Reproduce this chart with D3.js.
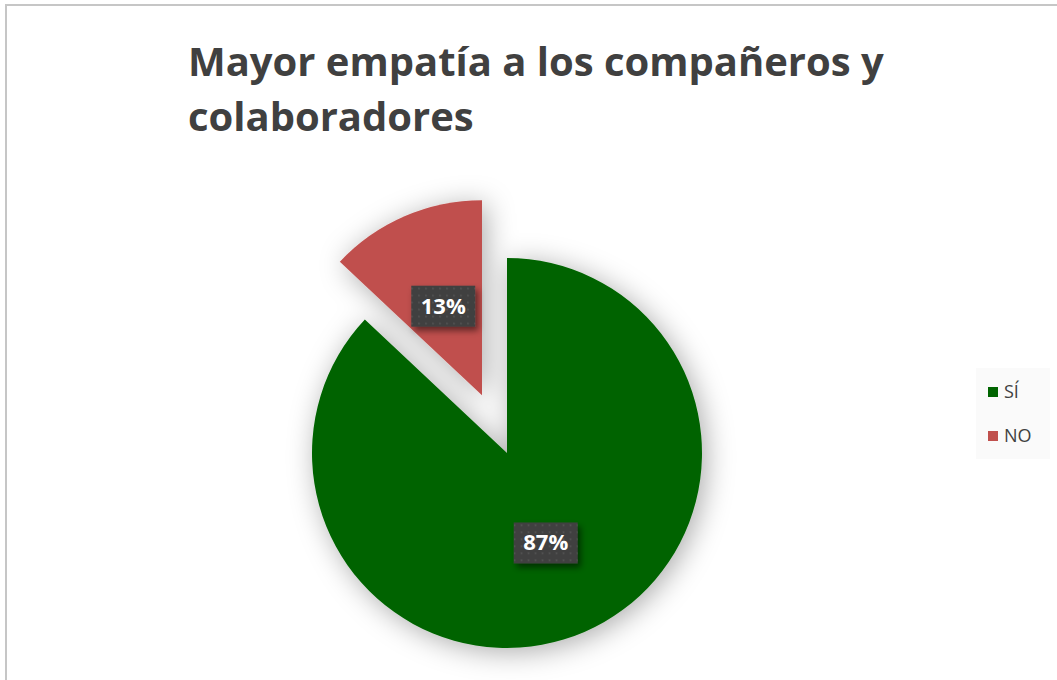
<!DOCTYPE html>
<html>
<head>
<meta charset="utf-8">
<script src="https://cdn.jsdelivr.net/npm/d3@7"></script>
<style>
  html, body { margin: 0; padding: 0; background: #fff; }
  svg { display: block; font-family: "Open Sans", "Noto Sans", sans-serif; }
</style>
</head>
<body>
<div id="chart"></div>
<script>
// Pie chart: Mayor empatía a los compañeros y colaboradores
const categories = ["SÍ", "NO"];
const values = [87, 13];
const colors = ["#006400", "#C0504D"];
const titleLines = ["Mayor empatía a los compañeros y", "colaboradores"];

(function () {
  const width = 1057;
  const height = 680;

  const svg = d3.select("#chart")
    .append("svg")
    .attr("width", width)
    .attr("height", height);

  const defs = svg.append("defs");

  const glow = defs.append("filter")
    .attr("id", "pie-shadow")
    .attr("x", "-30%").attr("y", "-30%")
    .attr("width", "160%").attr("height", "160%");
  glow.append("feDropShadow")
    .attr("dx", 4).attr("dy", 4)
    .attr("stdDeviation", 14)
    .attr("flood-color", "#000")
    .attr("flood-opacity", 0.33);

  const boxShadow = defs.append("filter")
    .attr("id", "box-shadow")
    .attr("x", "-30%").attr("y", "-30%")
    .attr("width", "170%").attr("height", "170%");
  boxShadow.append("feDropShadow")
    .attr("dx", 3).attr("dy", 4)
    .attr("stdDeviation", 3)
    .attr("flood-color", "#000")
    .attr("flood-opacity", 0.5);

  const dots = defs.append("pattern")
    .attr("id", "dots")
    .attr("width", 7).attr("height", 7)
    .attr("patternUnits", "userSpaceOnUse");
  dots.append("rect").attr("width", 7).attr("height", 7).attr("fill", "#404040");
  dots.append("rect").attr("x", 3).attr("y", 3).attr("width", 1.5).attr("height", 1.5).attr("fill", "#5a5a5a");

  // chart frame
  svg.append("rect")
    .attr("x", 6).attr("y", 5)
    .attr("width", width + 10).attr("height", height + 10)
    .attr("fill", "#fff")
    .attr("stroke", "#c6c6c6")
    .attr("stroke-width", 2);

  // title
  const title = svg.append("text")
    .attr("x", 188)
    .attr("fill", "#404040")
    .attr("font-weight", "bold")
    .attr("font-size", 40);
  title.selectAll("tspan")
    .data(titleLines)
    .join("tspan")
    .attr("x", 188)
    .attr("y", (d, i) => 76 + i * 55)
    .text((d) => d);
  // fit the first line to the reference width
  const firstLen = title.select("tspan").node().getComputedTextLength();
  title.attr("font-size", 40 * 696 / firstLen);

  // pie
  const cx = 507, cy = 453, radius = 195, explode = 63;
  const total = d3.sum(values);
  const pie = d3.pie().sort(null).value((d) => d.value);
  const arcs = pie(categories.map((c, i) => ({ name: c, value: values[i], color: colors[i] })));
  const arc = d3.arc().innerRadius(0).outerRadius(radius);
  const labelArc = d3.arc().innerRadius(radius * 0.5).outerRadius(radius * 0.5);

  const offset = (d) => {
    if (d.data.name !== "NO") return [0, 0];
    const mid = (d.startAngle + d.endAngle) / 2;
    return [Math.sin(mid) * explode, -Math.cos(mid) * explode];
  };

  const g = svg.append("g").attr("transform", `translate(${cx},${cy})`);

  const slices = g.append("g").attr("filter", "url(#pie-shadow)");
  slices.selectAll("path")
    .data(arcs)
    .join("path")
    .attr("transform", (d) => `translate(${offset(d)})`)
    .attr("d", arc)
    .attr("fill", (d) => d.data.color);

  const labels = g.selectAll("g.label")
    .data(arcs)
    .join("g")
    .attr("class", "label")
    .attr("transform", (d) => {
      const [x, y] = labelArc.centroid(d);
      const [ox, oy] = offset(d);
      return `translate(${x + ox},${y + oy})`;
    });

  labels.append("rect")
    .attr("x", -32).attr("y", -20)
    .attr("width", 64).attr("height", 41)
    .attr("fill", "url(#dots)")
    .attr("filter", "url(#box-shadow)");

  labels.append("text")
    .attr("text-anchor", "middle")
    .attr("dy", "0.36em")
    .attr("fill", "#fff")
    .attr("font-weight", "bold")
    .attr("font-size", 22)
    .text((d) => `${Math.round(d.data.value / total * 100)}%`);

  // legend
  const legend = svg.append("g").attr("transform", "translate(976,368)");
  legend.append("rect")
    .attr("width", 74).attr("height", 91)
    .attr("fill", "#fafafa");

  const items = legend.selectAll("g.item")
    .data(categories)
    .join("g")
    .attr("class", "item")
    .attr("transform", (d, i) => `translate(12, ${19 + i * 44})`);

  items.append("rect")
    .attr("width", 10).attr("height", 10)
    .attr("fill", (d, i) => colors[i]);

  items.append("text")
    .attr("x", 16)
    .attr("y", 11)
    .attr("fill", "#404040")
    .attr("font-size", 18)
    .text((d) => d);
})();
</script>
</body>
</html>
